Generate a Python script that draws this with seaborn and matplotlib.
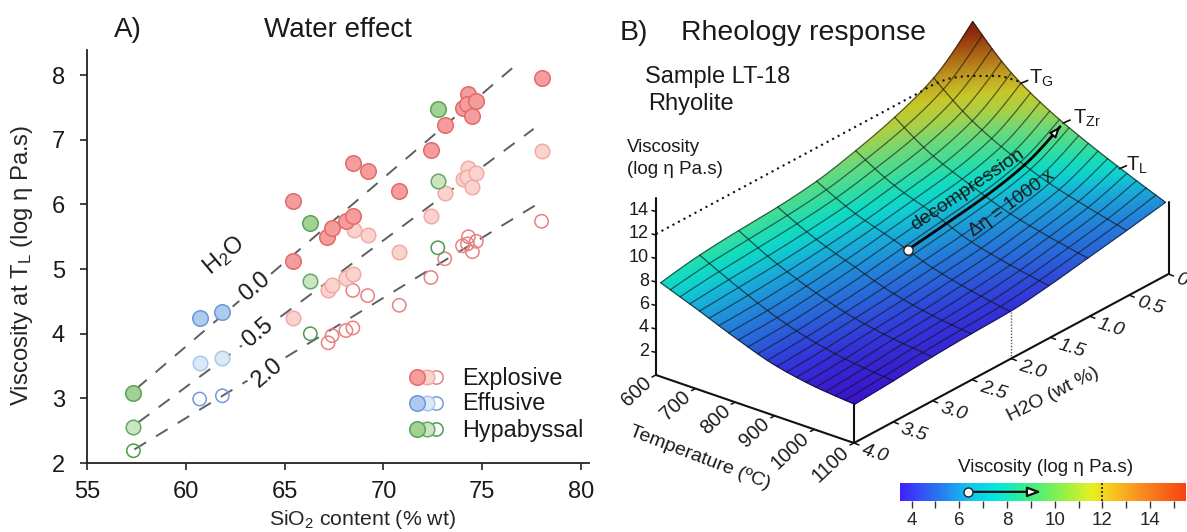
import numpy as np
import pandas as pd
import matplotlib
matplotlib.use("Agg")
import matplotlib.pyplot as plt
from matplotlib.colors import LinearSegmentedColormap
import seaborn as sns

sns.set_style("white")
plt.rcParams['font.family'] = ['Liberation Sans', 'DejaVu Sans']
plt.rcParams['mathtext.fontset'] = 'custom'
plt.rcParams['mathtext.rm'] = 'Liberation Sans'
plt.rcParams['mathtext.it'] = 'Liberation Sans'
plt.rcParams['text.color'] = '#1a1a1a'

# ---------- Panel A data ----------
exp_dry_x = [65.4, 65.4, 67.15, 67.4, 68.1, 68.45, 68.45, 69.2, 70.8, 72.4, 73.1, 74.0, 74.3, 74.25, 74.7, 74.5, 78.0]
exp_dry_y = [6.06, 5.12, 5.50, 5.64, 5.75, 5.82, 6.64, 6.52, 6.21, 6.85, 7.23, 7.49, 7.71, 7.56, 7.60, 7.37, 7.96]
exp_mid_x = [65.4, 67.2, 67.4, 68.1, 68.45, 68.5, 69.2, 70.8, 72.4, 73.1, 74.0, 74.3, 74.25, 74.7, 74.5, 78.0]
exp_mid_y = [4.25, 4.68, 4.76, 4.87, 4.93, 5.60, 5.53, 5.27, 5.82, 6.17, 6.39, 6.57, 6.43, 6.48, 6.27, 6.82]
exp_wet_x = [67.2, 67.4, 68.1, 68.45, 68.45, 69.2, 70.8, 72.4, 73.1, 74.0, 74.3, 74.25, 74.7, 74.5, 78.0]
exp_wet_y = [3.86, 3.97, 4.05, 4.09, 4.67, 4.59, 4.44, 4.87, 5.16, 5.36, 5.50, 5.39, 5.43, 5.27, 5.74]
eff_x = [60.7, 61.85]
eff_dry_y = [4.25, 4.33]
eff_mid_y = [3.55, 3.62]
eff_wet_y = [2.99, 3.04]
hyp_x = [57.35, 66.3, 72.75]
hyp_dry_y = [3.09, 5.71, 7.48]
hyp_mid_y = [2.56, 4.82, 6.37]
hyp_wet_y = [2.19, 4.00, 5.33]

line_x_00 = [57.5, 76.75]; line_y_00 = [3.15, 8.17]
line_x_05 = [57.6, 77.6];  line_y_05 = [2.63, 7.17]
line_x_20 = [57.4, 77.7];  line_y_20 = [2.21, 5.99]

rock_types = ['Explosive', 'Effusive', 'Hypabyssal']
x_ticks_a = [55, 60, 65, 70, 75, 80]
y_ticks_a = [2, 3, 4, 5, 6, 7, 8]

# ---------- Panel B data: viscosity read on the drawn surface ----------
temp_c = [600, 700, 800, 900, 1000, 1100]
water_wt = [0, 0.5, 1.0, 1.5, 2.0, 2.5, 3.0, 3.5, 4.0]
visc_600 = [15.7, 12.7, 11.15, 10.1, 9.3, 8.9, 8.7, 8.4, 7.85]
visc_700 = [12.5, 10.2, 9.0, 8.3, 7.7, 7.3, 7.0, 6.8, 6.6]
visc_800 = [10.4, 8.5, 7.6, 7.1, 6.6, 6.1, 5.7, 5.4, 5.3]
visc_900 = [8.8, 7.2, 6.4, 5.8, 5.4, 5.0, 4.7, 4.4, 4.2]
visc_1000 = [7.4, 6.3, 5.6, 5.0, 4.6, 4.3, 4.1, 3.8, 3.6]
visc_1100 = [6.1, 5.5, 4.95, 4.4, 4.0, 3.9, 3.75, 3.5, 3.3]
z_ticks = [2, 4, 6, 8, 10, 12, 14]
T_G, T_Zr, T_L = 727, 837, 983
path_start_water = 2.0
guide_T = [600, 600, 600, 610, 635, 672, 709, 722]
guide_W = [4.0, 0.64, 0.43, 0.27, 0.146, 0.027, 0.0, 0.0]
cb_major = [4, 6, 8, 10, 12, 14]
cb_minor = [5, 7, 9, 11, 13, 15]

fig = plt.figure(figsize=(11.87, 5.32), dpi=100)
W_PX, H_PX = 1187.0, 532.0

# ---------- Panel A ----------
ax = fig.add_axes([87 / W_PX, (H_PX - 463) / H_PX, (589 - 87) / W_PX, (463 - 50) / H_PX])
for lx, ly in [(line_x_00, line_y_00), (line_x_05, line_y_05), (line_x_20, line_y_20)]:
    sns.lineplot(x=lx, y=ly, ax=ax, color='#5f5f5f', lw=1.4, linestyle=(0, (7, 6)),
                 errorbar=None, sort=False, zorder=1)

def pts(rock, state, xs, ys):
    return pd.DataFrame({'sio2': xs, 'visc': ys, 'rock': rock, 'state': state})

df = pd.concat([
    pts('Explosive', 'wet', exp_wet_x, exp_wet_y),
    pts('Effusive', 'wet', eff_x, eff_wet_y),
    pts('Hypabyssal', 'wet', hyp_x, hyp_wet_y),
    pts('Explosive', 'mid', exp_mid_x, exp_mid_y),
    pts('Effusive', 'mid', eff_x, eff_mid_y),
    pts('Hypabyssal', 'mid', hyp_x, hyp_mid_y),
    pts('Explosive', 'dry', exp_dry_x, exp_dry_y),
    pts('Effusive', 'dry', eff_x, eff_dry_y),
    pts('Hypabyssal', 'dry', hyp_x, hyp_dry_y),
])
face = {('Explosive', 'dry'): '#f59c9c', ('Explosive', 'mid'): '#fad2ce', ('Explosive', 'wet'): 'none',
        ('Effusive', 'dry'): '#aecbee', ('Effusive', 'mid'): '#dbe8f5', ('Effusive', 'wet'): 'none',
        ('Hypabyssal', 'dry'): '#a3d094', ('Hypabyssal', 'mid'): '#cbe5c3', ('Hypabyssal', 'wet'): 'none'}
edge = {('Explosive', 'dry'): '#e46a6a', ('Explosive', 'mid'): '#f2aaa4', ('Explosive', 'wet'): '#e98080',
        ('Effusive', 'dry'): '#6a98dc', ('Effusive', 'mid'): '#aac6ea', ('Effusive', 'wet'): '#7399e2',
        ('Hypabyssal', 'dry'): '#56a656', ('Hypabyssal', 'mid'): '#62aa62', ('Hypabyssal', 'wet'): '#4c9c4c'}
size = {'dry': 125, 'mid': 110, 'wet': 92}
for state in ['wet', 'mid', 'dry']:
    for rock in rock_types:
        sub = df[(df.rock == rock) & (df.state == state)]
        sns.scatterplot(data=sub, x='sio2', y='visc', ax=ax, s=size[state], color=edge[(rock, state)],
                        facecolor=face[(rock, state)], edgecolor=edge[(rock, state)],
                        linewidth=1.1, zorder=3, legend=False)

ax.set_xlim(55, 80.4)
ax.set_ylim(2, 8.39)
ax.set_xticks(x_ticks_a)
ax.set_yticks(y_ticks_a)
ax.patch.set_alpha(0)
for s in ['top', 'right']:
    ax.spines[s].set_visible(False)
for s in ['left', 'bottom']:
    ax.spines[s].set_linewidth(1.3)
    ax.spines[s].set_color('#222222')
ax.tick_params(axis='y', left=True, length=5, width=1.2, pad=11, labelsize=17, color='#222222', labelcolor='#1a1a1a')
ax.tick_params(axis='x', bottom=True, length=5, width=1.2, pad=8, labelsize=17, color='#222222', labelcolor='#1a1a1a')
ax.set_xlabel('SiO$_2$ content (% wt)', fontsize=15.3)
ax.xaxis.set_label_coords((362 - 87) / 502.0, -(519.5 - 463) / 413.0)
ax.xaxis.label.set_va('center')
ax.set_ylabel(r'Viscosity at T$_{\mathrm{L}}$ (log η Pa.s)', fontsize=17.2)
ax.yaxis.set_label_coords((35 - 87) / 502.0, (463 - 265) / 413.0)

# ---------- Overlay in pixel coordinates ----------
ov = fig.add_axes([0, 0, 1, 1], zorder=5)
ov.set_xlim(0, W_PX)
ov.set_ylim(H_PX, 0)
ov.axis('off')
ov.patch.set_alpha(0)

ov.text(128, 30, 'A)', fontsize=20, ha='center', va='center')
ov.text(338, 30, 'Water effect', fontsize=20, ha='center', va='center')
white = dict(fc='white', ec='none', pad=3)
ov.text(224, 256, 'H$_2$O', fontsize=17, rotation=40, ha='center', va='center', rotation_mode='anchor')
ov.text(254.5, 287, '0.0', fontsize=17, rotation=40, ha='center', va='center', rotation_mode='anchor', bbox=white)
ov.text(258, 332.5, '0.5', fontsize=17, rotation=40, ha='center', va='center', rotation_mode='anchor', bbox=white)
ov.text(268, 373, '2.0', fontsize=17, rotation=40, ha='center', va='center', rotation_mode='anchor', bbox=white)

for rock, y in zip(rock_types, [377, 403, 429]):
    for state, x in zip(['wet', 'mid', 'dry'], [435.5, 427, 417]):
        ov.scatter([x], [y], s=size[state], facecolor=face[(rock, state)] if state != 'wet' else 'white',
                   edgecolor=edge[(rock, state)], linewidth=1.1, zorder=4)
    ov.text(462, y + 1, rock, fontsize=16.8, ha='left', va='center')

# ---------- Panel B projection ----------
A = np.array([656.0, 375.0])     # T=600, W=4 on floor
B = np.array([854.0, 443.0])     # T=1100, W=4 on floor
C = np.array([1168.5, 274.0])    # T=1100, W=0 on floor
D = A + C - B
PX_PER_Z = 11.75

def project(T, W, Z=0.0, inset=False):
    f = (np.asarray(T, float) - 600.0) / 500.0
    g = np.asarray(W, float) / 4.0
    x = D[0] + f * (C[0] - D[0]) + g * (A[0] - D[0])
    y = D[1] + f * (C[1] - D[1]) + g * (A[1] - D[1]) - PX_PER_Z * np.asarray(Z, float)
    if inset:  # the sheet sits a little inside the box
        x = x + (1 - f) * (2.2 + 2.5 * g) + f * (-3 + 3.7 * g)
    return x, y

def refine(values, n_sub, axis):
    """Monotone cubic (PCHIP) refinement of the read table so the sheet is drawn smooth."""
    v = np.moveaxis(np.asarray(values, float), axis, 0)
    delta = np.diff(v, axis=0)
    d = np.zeros_like(v)
    same = delta[:-1] * delta[1:] > 0
    hm = np.zeros_like(delta[:-1])
    hm[same] = 2 * delta[:-1][same] * delta[1:][same] / (delta[:-1][same] + delta[1:][same])
    d[1:-1] = hm
    d[0] = 1.5 * delta[0] - 0.5 * d[1]
    d[-1] = 1.5 * delta[-1] - 0.5 * d[-2]
    out = []
    for i in range(len(v) - 1):
        for t in np.arange(n_sub) / n_sub:
            out.append((2 * t ** 3 - 3 * t ** 2 + 1) * v[i] + (t ** 3 - 2 * t ** 2 + t) * d[i]
                       + (3 * t ** 2 - 2 * t ** 3) * v[i + 1] + (t ** 3 - t ** 2) * d[i + 1])
    out.append(v[-1])
    return np.moveaxis(np.array(out), 0, axis)

table = np.array([visc_600, visc_700, visc_800, visc_900, visc_1000, visc_1100])
NT, NW = 20, 24
fine = refine(refine(table, NT, 0), NW, 1)
T_f = refine(np.array(temp_c, float), NT, 0)
W_f = refine(np.array(water_wt, float), NW, 0)
TT, WW = np.meshgrid(T_f, W_f, indexing='ij')
PX, PY = project(TT, WW, fine, inset=True)

Z0, Z1 = 3.2, 15.7
surf_stops = [(3.2, '#3a10c8'), (4.1, '#3434d8'), (5.0, '#2a62d8'), (6.1, '#2090d8'), (6.8, '#18b0d8'),
              (7.4, '#10d0d0'), (7.9, '#12dcc0'), (8.7, '#40dc98'), (9.6, '#70d878'), (10.5, '#a8d048'),
              (11.5, '#c8c828'), (12.5, '#c0a020'), (13.5, '#b07018'), (15.0, '#902c0c'), (15.7, '#802008')]
surf_cmap = LinearSegmentedColormap.from_list('surf', [((z - Z0) / (Z1 - Z0), c) for z, c in surf_stops])
ov.pcolormesh(PX, PY, fine, cmap=surf_cmap, vmin=Z0, vmax=Z1, shading='gouraud', zorder=1)

# Mesh lines: every 25 C and every 0.5 wt %
for i in range(0, len(T_f), 5):
    ov.plot(PX[i, :], PY[i, :], color='#101010', alpha=0.6, lw=0.9, zorder=2)
for j in range(0, len(W_f), NW):
    ov.plot(PX[:, j], PY[:, j], color='#101010', alpha=0.65, lw=0.9, zorder=2)

# Axes of the box
ax_kw = dict(color='#111111', lw=1.5, zorder=3, solid_capstyle='round')
px0, py0 = project(600, 4, 0); px1, py1 = project(1100, 4, 0); px2, py2 = project(1100, 0, 0)
ov.plot([px0, px1, px2], [py0, py1, py2], **ax_kw)
zx, zy = project(600, 4, 15.1)
ov.plot([px0, zx], [py0, zy], **ax_kw)
ov.plot([px1, px1], [py1, project(1100, 4, visc_1100[-1])[1]], **ax_kw)
ov.plot([px2, px2], [py2, project(1100, 0, visc_1100[0])[1]], **ax_kw)

for z in z_ticks:
    x, y = project(600, 4, z)
    ov.plot([x - 4, x], [y, y + 1], color='#111111', lw=1.1, zorder=3)
    ov.text(649, y, str(z), fontsize=13, ha='right', va='center')
for T in temp_c:
    x, y = project(T, 4)
    ov.plot([x - 4, x], [y + 2, y], color='#111111', lw=1.1, zorder=3)
    shift = 4 if T >= 1000 else 0
    ov.text(x - 20 - shift, y + 17 + shift, str(T), fontsize=14.5, rotation=43, ha='center', va='center',
            rotation_mode='anchor')
for W in water_wt:
    x, y = project(1100, W)
    ov.plot([x, x + 5], [y, y + 2], color='#111111', lw=1.1, zorder=3)
    lab = '0' if W == 0 else f'{W:.1f}'
    dx = 13 if W == 0 else 21
    ov.text(x + dx, y + (6 if W == 0 else 11), lab, fontsize=14, rotation=-17, ha='center', va='center',
            rotation_mode='anchor', style='italic')

ov.text(700, 458, 'Temperature (ºC)', fontsize=14, rotation=-21, ha='center', va='center', rotation_mode='anchor')
ov.text(1053, 395, 'H2O (wt %)', fontsize=14, rotation=27, ha='center', va='center', rotation_mode='anchor')

# Dotted guides: z=12 wall line and the curve over the sheet, water 2.0 drop
gx, gy = project(guide_T, guide_W, 12.0)
gx_fine = refine(gx[1:], 8, 0)
gy_fine = refine(gy[1:], 8, 0)
ov.plot(np.r_[gx[0], gx_fine], np.r_[gy[0], gy_fine], color='#111111', lw=1.5, linestyle=(0, (1, 2)), zorder=4)
dx_, dy_ = project([1100, 1100], [2, 2], [0, visc_1100[4]])
ov.plot(dx_, dy_, color='#555555', lw=1.0, linestyle=(0, (1, 1.2)), zorder=2)

# Edge markers for TG, TZr, TL
def edge_z(T):
    return fine[np.argmin(np.abs(T_f - T)), 0]

for T, lab, off in [(T_G, r'T$_{\mathrm{G}}$', (7, -5)), (T_Zr, r'T$_{\mathrm{Zr}}$', (9, -5)), (T_L, r'T$_{\mathrm{L}}$', (6, -3))]:
    x, y = project(T, 0, edge_z(T), inset=True)
    ov.plot([x - 1, x + 6], [y, y - 3], color='#111111', lw=1.2, zorder=4)
    ov.text(x + off[0], y + off[1], lab, fontsize=14.5, ha='left', va='center', zorder=6)

# Decompression path on the surface
it = np.argmin(np.abs(T_f - T_Zr))
keep = W_f <= path_start_water
kx = PX[it, keep]
ky = PY[it, keep]
ov.plot(kx[2:], ky[2:], color='black', lw=2.0, zorder=5)
ov.annotate('', xy=(kx[1], ky[1]), xytext=(kx[6], ky[6]),
            arrowprops=dict(arrowstyle='-|>,head_length=0.6,head_width=0.25', fc='white', ec='black', lw=1.4), zorder=6)
ov.scatter([kx[-1]], [ky[-1]], s=45, facecolor='white', edgecolor='#222222', linewidth=1.0, zorder=6)
ov.text(968, 190, 'decompression', fontsize=14, rotation=34, ha='center', va='center', rotation_mode='anchor', zorder=6)
ov.text(1012, 203, 'Δη = 1000 x', fontsize=13.5, rotation=36, ha='center', va='center', rotation_mode='anchor', zorder=6)

ov.text(620, 33, 'B)', fontsize=20.4, ha='left', va='center')
ov.text(681, 33, 'Rheology response', fontsize=20.4, ha='left', va='center')
ov.text(645, 77, 'Sample LT-18', fontsize=17, ha='left', va='center')
ov.text(648, 104, 'Rhyolite', fontsize=17, ha='left', va='center')
ov.text(627, 148, 'Viscosity', fontsize=13.5, ha='left', va='center')
ov.text(627, 169, '(log η Pa.s)', fontsize=13.5, ha='left', va='center')

# ---------- Colour bar ----------
cax = fig.add_axes([899.6 / W_PX, (H_PX - 500.7) / H_PX, (1186 - 899.6) / W_PX, (500.7 - 483) / H_PX], zorder=6)
cb_cmap = LinearSegmentedColormap.from_list('cb', [
    (0.00, '#4020ff'), (0.125, '#2a70f0'), (0.25, '#10c8f0'), (0.335, '#00e8e0'), (0.46, '#40f080'),
    (0.585, '#a0f040'), (0.67, '#e8f020'), (0.75, '#f8c020'), (0.835, '#f89020'), (1.00, '#f84010')])
grad_z = np.linspace(3.5, 15.5, 256)
cax.pcolormesh(grad_z, [0, 1], np.vstack([grad_z[:-1]]), cmap=cb_cmap, vmin=3.5, vmax=15.5, shading='flat')
cax.set_xlim(3.5, 15.5)
cax.set_ylim(0, 1)
cax.set_yticks([])
cax.set_xticks(cb_major)
cax.set_xticks(cb_minor, minor=True)
cax.tick_params(axis='x', which='both', bottom=True, length=5, width=1.0, pad=3, labelsize=13.5, color='#333333')
for s in ['top', 'left', 'right', 'bottom']:
    cax.spines[s].set_visible(False)
cax.plot([12, 12], [0, 1], color='#222222', lw=1.2, linestyle=(0, (1.2, 1.2)))
cax.annotate('', xy=(9.55, 0.5), xytext=(6.5, 0.5),
             arrowprops=dict(arrowstyle='-|>,head_length=0.8,head_width=0.3', fc='white', ec='#111111', lw=1.6))
cax.scatter([6.36], [0.5], s=42, facecolor='white', edgecolor='#222222', linewidth=1.0, zorder=5, clip_on=False)
ov.text(1045.7, 467, 'Viscosity (log η Pa.s)', fontsize=13.6, ha='center', va='center')

fig.savefig('out.png', dpi=100)
